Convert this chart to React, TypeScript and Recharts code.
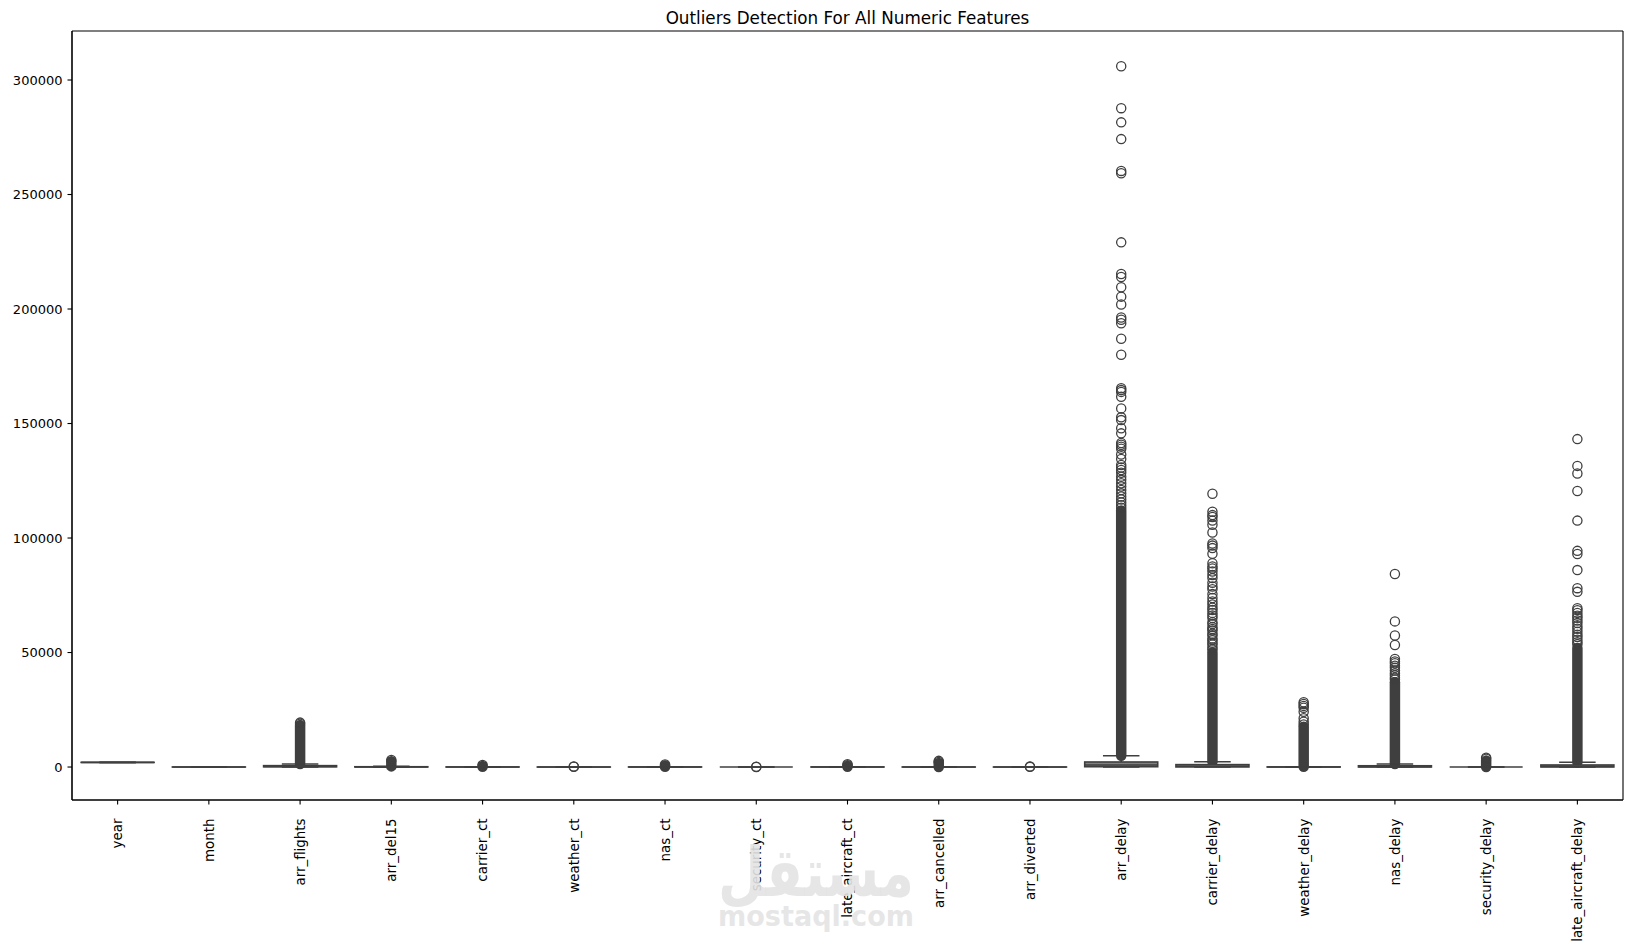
import React from "react";
import { ComposedChart, Bar, XAxis, YAxis, CartesianGrid } from "recharts";

// features in plotting order
const features = [
  "year", "month", "arr_flights", "arr_del15", "carrier_ct", "weather_ct",
  "nas_ct", "security_ct", "late_aircraft_ct", "arr_cancelled", "arr_diverted",
  "arr_delay", "carrier_delay", "weather_delay", "nas_delay", "security_delay",
  "late_aircraft_delay",
];

// box statistics, one entry per feature
const q1 = [2009, 4, 90, 15, 5, 0, 4, 0, 4, 0, 0, 130, 30, 0, 20, 0, 30];
const median = [2014, 7, 220, 40, 13, 1, 12, 0, 13, 1, 0, 900, 350, 0, 150, 0, 300];
const q3 = [2019, 10, 600, 120, 36, 3, 40, 0, 40, 5, 1, 2200, 1050, 50, 550, 0, 900];
const whiskerLow = [2003, 1, 1, 0, 0, 0, 0, 0, 0, 0, 0, 0, 0, 0, 0, 0, 0];
const whiskerHigh = [2023, 12, 1340, 270, 82, 8, 95, 0, 95, 12, 2, 4900, 2300, 125, 1340, 0, 2100];

// value up to which the fliers overlap into a solid column (null = none)
const denseTop = [null, null, 18300, 2500, 500, null, 400, null, 400, 1800, null, 112000, 50000, 17600, 37000, 2800, 52000];

// individually visible fliers
const arrFlightsOutliers = [19400, 18900];
const arrDel15Outliers = [3100];
const carrierCtOutliers = [900];
const weatherCtOutliers = [250, 120];
const nasCtOutliers = [1100, 700];
const securityCtOutliers = [90, 40];
const lateAircraftCtOutliers = [1200, 800];
const arrCancelledOutliers = [2700, 2200];
const arrDivertedOutliers = [200, 80];
const arrDelayOutliers = [
  306000, 287700, 281500, 274200, 260300, 259300, 229100, 215300, 214000,
  209500, 205400, 202000, 196300, 195300, 193800, 187000, 180000, 165400,
  164600, 163800, 161700, 156600, 152700, 151500, 147900, 145700, 141500,
  140700, 139900, 139000, 136500, 134500, 131900, 130800, 129700, 128500,
  126800, 125400, 123900, 122500, 121000, 119500, 118100, 116800, 115500,
  114300, 113200,
];
const carrierDelayOutliers = [
  119300, 111500, 110000, 109200, 107600, 105800, 102400, 97600, 96700,
  95600, 93100, 89000, 87600, 86700, 85400, 83800, 82500, 80500, 78800,
  77600, 75500, 73800, 72300, 71000, 69600, 68600, 67300, 66200, 65100,
  63200, 62400, 61100, 60300, 59600, 58200, 57500, 56100, 55400, 54300,
  53500, 52200, 51300,
];
const weatherDelayOutliers = [28300, 27500, 26700, 25900, 24100, 21300, 19800, 18600];
const nasDelayOutliers = [
  84300, 63600, 57400, 53300, 47200, 46100, 45300, 44200, 43300, 42100,
  41000, 40100, 39000, 38200,
];
const securityDelayOutliers = [4100, 3600];
const lateAircraftDelayOutliers = [
  143200, 131500, 128200, 120500, 107600, 94400, 93000, 86000, 78100, 76500,
  69300, 68500, 67300, 66100, 65200, 64000, 62900, 61500, 60400, 59100,
  57800, 56800, 55600, 54500, 53600,
];

const outlierLists: Record<string, number[]> = {
  arr_flights: arrFlightsOutliers,
  arr_del15: arrDel15Outliers,
  carrier_ct: carrierCtOutliers,
  weather_ct: weatherCtOutliers,
  nas_ct: nasCtOutliers,
  security_ct: securityCtOutliers,
  late_aircraft_ct: lateAircraftCtOutliers,
  arr_cancelled: arrCancelledOutliers,
  arr_diverted: arrDivertedOutliers,
  arr_delay: arrDelayOutliers,
  carrier_delay: carrierDelayOutliers,
  weather_delay: weatherDelayOutliers,
  nas_delay: nasDelayOutliers,
  security_delay: securityDelayOutliers,
  late_aircraft_delay: lateAircraftDelayOutliers,
};

const yTicks = [0, 50000, 100000, 150000, 200000, 250000, 300000];

const rows = features.map((feature, i) => {
  const outliers = outlierLists[feature] ?? [];
  const dense = denseTop[i];
  const lo = Math.min(whiskerLow[i], q1[i]);
  const hi = Math.max(whiskerHigh[i], q3[i], dense ?? 0, ...outliers);
  return {
    feature,
    span: [lo, hi],
    q1: q1[i],
    median: median[i],
    q3: q3[i],
    wl: whiskerLow[i],
    wh: whiskerHigh[i],
    dense,
    outliers,
  };
});

const LINE = "#3f3f3f";
const BOX = "#808080";
const FONT = "DejaVu Sans, sans-serif";

// draws one seaborn-style box: fliers, whiskers, box and median
const BoxShape = (props: any) => {
  const { x, y, width, height, payload } = props;
  const [lo, hi] = payload.span;
  const top = Math.min(y, y + height);
  const bottom = Math.max(y, y + height);
  const toPx = (v: number) =>
    hi === lo ? bottom : bottom - ((v - lo) / (hi - lo)) * (bottom - top);
  const cx = x + width / 2;
  const r = 4.6;
  const sw = 1.3;
  const yq1 = toPx(payload.q1);
  const yq3 = toPx(payload.q3);
  const yMed = toPx(payload.median);
  const yLo = toPx(payload.wl);
  const yHi = toPx(payload.wh);
  const capHalf = width / 4;
  return (
    <g>
      {payload.dense != null && (
        <rect
          x={cx - r - sw / 2}
          y={toPx(payload.dense) - r - sw / 2}
          width={2 * r + sw}
          height={yHi - toPx(payload.dense) + 2 * r + sw}
          rx={r + sw / 2}
          fill={LINE}
        />
      )}
      {payload.outliers.map((v: number, k: number) => (
        <circle key={k} cx={cx} cy={toPx(v)} r={r} fill="none" stroke={LINE} strokeWidth={sw} />
      ))}
      <line x1={cx} x2={cx} y1={yLo} y2={yq1} stroke={LINE} strokeWidth={1.6} />
      <line x1={cx} x2={cx} y1={yq3} y2={yHi} stroke={LINE} strokeWidth={1.6} />
      <line x1={cx - capHalf} x2={cx + capHalf} y1={yLo} y2={yLo} stroke={LINE} strokeWidth={1.6} />
      <line x1={cx - capHalf} x2={cx + capHalf} y1={yHi} y2={yHi} stroke={LINE} strokeWidth={1.6} />
      <rect
        x={x}
        y={yq3}
        width={width}
        height={Math.max(yq1 - yq3, 0)}
        fill={BOX}
        stroke={LINE}
        strokeWidth={1.6}
      />
      <line x1={x} x2={x + width} y1={yMed} y2={yMed} stroke={LINE} strokeWidth={1.6} />
    </g>
  );
};

const XTick = ({ x, y, payload }: any) => (
  <g transform={`translate(${x},${y})`}>
    <text
      transform="rotate(-90)"
      x={0}
      y={0}
      dy="0.36em"
      textAnchor="end"
      fontSize={13.4}
      fontFamily={FONT}
      fill="#000"
    >
      {payload.value}
    </text>
  </g>
);

// frame lines on all four sides of the plot area
const frameRows = ({ offset }: any) =>
  offset ? [offset.top, offset.top + offset.height] : [31, 800];
const frameCols = ({ offset }: any) =>
  offset ? [offset.left, offset.left + offset.width] : [72, 1623];

const App = () => {
  return (
    <div style={{ position: "absolute", left: 0, top: 0, width: 1632, height: 950, background: "#fff" }}>
      <ComposedChart
        width={1632}
        height={950}
        data={rows}
        margin={{ top: 31, right: 9, left: 0, bottom: 0 }}
        barCategoryGap="10%"
        style={{ fontFamily: FONT }}
      >
        <CartesianGrid
          stroke="#000"
          strokeWidth={1.1}
          horizontalCoordinatesGenerator={frameRows}
          verticalCoordinatesGenerator={frameCols}
        />
        <XAxis
          dataKey="feature"
          type="category"
          interval={0}
          height={150}
          tickSize={4.5}
          tickMargin={14}
          tick={<XTick />}
          axisLine={{ stroke: "#000", strokeWidth: 1.1 }}
          tickLine={{ stroke: "#000", strokeWidth: 1.1 }}
        />
        <YAxis
          type="number"
          domain={[-14400, 321400]}
          ticks={yTicks}
          allowDataOverflow
          width={72}
          tickSize={4.5}
          tickMargin={5}
          tick={{ fontSize: 13, fill: "#000", fontFamily: FONT }}
          axisLine={{ stroke: "#000", strokeWidth: 1.1 }}
          tickLine={{ stroke: "#000", strokeWidth: 1.1 }}
        />
        <Bar dataKey="span" shape={<BoxShape />} isAnimationActive={false} />
      </ComposedChart>
      <svg
        width={1632}
        height={950}
        style={{ position: "absolute", left: 0, top: 0, pointerEvents: "none" }}
      >
        <text x={847.5} y={23.5} textAnchor="middle" fontSize={16.8} fontFamily={FONT} fill="#000">
          Outliers Detection For All Numeric Features
        </text>
        <g fill="#e3e3e3" fillOpacity={0.9} fontFamily={FONT} fontWeight="bold">
          <text x={816} y={896} textAnchor="middle" fontSize={68} textLength={196} lengthAdjust="spacingAndGlyphs">
            مستقل
          </text>
          <text x={816} y={926} textAnchor="middle" fontSize={28} textLength={196} lengthAdjust="spacingAndGlyphs">
            mostaql.com
          </text>
        </g>
      </svg>
    </div>
  );
};

export default App;
